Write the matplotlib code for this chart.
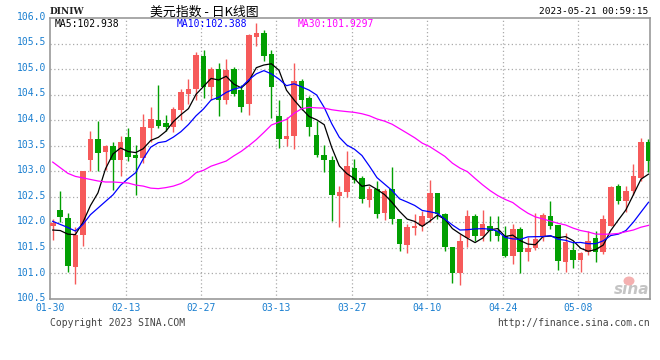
import matplotlib
matplotlib.use('Agg')
import matplotlib.pyplot as plt
from matplotlib.patches import Ellipse
import numpy as np
import pandas as pd

# daily K-line of the US dollar index (DINIW), 2023-01-30 .. 2023-05-19
opens = [101.93, 102.25, 102.09, 101.13, 101.76, 103.22, 103.64, 103.37, 103.49, 103.22,
         103.67, 103.31, 103.26, 103.84, 104.01, 103.95, 103.87, 104.20, 104.52, 104.62,
         105.25, 104.64, 105.00, 104.39, 105.00, 104.59, 104.31, 105.62, 105.71, 105.29,
         104.09, 103.63, 103.69, 104.76, 104.44, 103.71, 103.31, 103.23, 102.51, 102.59,
         103.06, 102.86, 102.44, 102.66, 102.18, 102.65, 102.06, 101.55, 101.89, 101.92,
         102.09, 102.57, 102.16, 101.52, 101.01, 101.69, 102.12, 101.74, 101.93, 101.84,
         101.74, 101.35, 101.87, 101.42, 101.49, 101.74, 102.12, 101.95, 101.23, 101.46,
         101.27, 101.42, 101.69, 101.42, 101.93, 102.72, 102.42, 102.62, 102.86, 103.57]
highs = [102.06, 102.62, 102.19, 101.91, 103.00, 103.78, 103.98, 103.52, 103.57, 103.70,
         103.85, 103.52, 104.13, 104.25, 104.68, 104.10, 104.26, 104.61, 104.80, 105.34,
         105.38, 105.04, 105.11, 105.20, 105.04, 104.69, 105.68, 105.90, 105.76, 105.38,
         104.40, 104.06, 105.11, 104.80, 104.47, 103.98, 103.52, 103.30, 102.71, 103.39,
         103.24, 102.90, 102.72, 102.81, 102.65, 103.08, 102.06, 101.96, 102.16, 102.23,
         102.82, 102.57, 102.19, 101.52, 101.77, 102.25, 102.16, 102.25, 102.13, 102.13,
         101.92, 101.96, 101.91, 101.72, 102.19, 102.19, 102.42, 101.95, 101.80, 101.62,
         101.42, 101.84, 101.83, 102.15, 102.72, 102.76, 102.71, 103.14, 103.66, 103.63]
lows = [101.65, 102.00, 101.03, 100.79, 101.53, 103.01, 103.01, 103.02, 102.63, 102.90,
        103.20, 102.53, 103.16, 103.58, 103.84, 103.78, 103.76, 104.00, 104.31, 104.40,
        104.44, 104.40, 104.09, 104.31, 104.48, 104.16, 104.11, 105.45, 105.15, 104.04,
        103.46, 103.49, 103.44, 104.20, 103.69, 103.28, 102.99, 102.03, 101.90, 102.50,
        102.78, 102.38, 102.31, 102.09, 102.05, 101.97, 101.44, 101.40, 101.75, 101.84,
        102.00, 102.06, 101.44, 100.82, 100.77, 101.52, 101.63, 101.63, 101.63, 101.63,
        101.32, 101.19, 101.01, 101.25, 101.45, 101.63, 101.87, 101.07, 101.03, 101.10,
        101.03, 101.37, 101.22, 101.38, 101.92, 102.36, 102.21, 102.53, 102.80, 102.99]
closes = [101.98, 102.11, 101.14, 101.76, 103.00, 103.63, 103.36, 103.49, 103.22, 103.58,
          103.28, 103.26, 103.87, 104.03, 103.88, 103.87, 104.21, 104.55, 104.62, 105.28,
          104.64, 105.00, 104.39, 104.99, 104.52, 104.26, 105.66, 105.71, 105.25, 104.64,
          103.63, 103.70, 104.76, 104.40, 103.87, 103.31, 103.22, 102.53, 102.60, 103.11,
          102.83, 102.46, 102.66, 102.16, 102.61, 102.06, 101.58, 101.91, 101.93, 102.13,
          102.57, 102.16, 101.52, 101.01, 101.63, 102.12, 101.74, 101.96, 101.83, 101.74,
          101.35, 101.87, 101.42, 101.50, 101.67, 102.14, 101.93, 101.25, 101.62, 101.27,
          101.40, 101.63, 101.42, 102.06, 102.70, 102.42, 102.62, 102.91, 103.57, 103.20]

# moving-average values before enough days are on the chart
ma5_head = [101.85, 101.84, 101.77, 101.76]
ma10_head = [102.02, 101.96, 101.90, 101.83, 101.96, 102.15, 102.28, 102.41, 102.54]
ma30_head = [103.18, 103.07, 102.96, 102.90, 102.87, 102.84, 102.81, 102.79, 102.79, 102.78,
             102.77, 102.73, 102.71, 102.67, 102.66, 102.68, 102.71, 102.76, 102.84, 102.97,
             103.02, 103.10, 103.15, 103.20, 103.30, 103.39, 103.50, 103.62, 103.76]

date_labels = ['01-30', '02-13', '02-27', '03-13', '03-27', '04-10', '04-24', '05-08']
yticks = [100.5, 101.0, 101.5, 102.0, 102.5, 103.0, 103.5, 104.0, 104.5, 105.0, 105.5, 106.0]

RED = '#f65a5a'
GREEN = '#029f02'
BLUE_TXT = '#1a7fd0'
MONO = 'DejaVu Sans Mono'

W, H = 660, 360


def fpos(x, y):
    return x / W, 1 - y / H


def moving_average(head, n):
    ma = pd.Series(closes).rolling(n).mean().to_numpy()
    ma[:len(head)] = head
    return ma


fig = plt.figure(figsize=(6.6, 3.6), dpi=100)
ax = fig.add_axes([50 / W, 1 - 299 / H, 600 / W, 281 / H])

o = np.array(opens)
c = np.array(closes)
x = np.arange(len(closes))
up = c >= o
colors = np.where(up, RED, GREEN)

ax.vlines(x, lows, highs, colors=colors, linewidth=1.0, zorder=3)
body_bottom = np.minimum(o, c)
body_height = np.maximum(np.abs(c - o), 0.02)
ax.bar(x, body_height, bottom=body_bottom, width=0.74, color=colors,
       linewidth=0, zorder=4)

ax.plot(x, moving_average(ma5_head, 5), color='black', lw=0.9, zorder=5)
ax.plot(x, moving_average(ma10_head, 10), color='#0000ff', lw=0.9, zorder=5)
ax.plot(x, moving_average(ma30_head, 30), color='#ff00ff', lw=0.9, zorder=5)

ax.set_xlim(-0.36, 79.2)
ax.set_ylim(100.5, 106.0)

# dotted grid
for yv in yticks[1:-1]:
    ax.axhline(yv, color='#aaaaaa', lw=0.9, ls=(0, (1, 2)), zorder=1)
grid_x = [i * 10 - 0.33 for i in range(len(date_labels))]
for gx in grid_x[1:]:
    ax.axvline(gx, color='#aaaaaa', lw=0.9, ls=(0, (1, 2)), zorder=1)

ax.set_xticks([])
ax.set_yticks([])
for s in ax.spines.values():
    s.set_color('#999999')
    s.set_linewidth(1.2)

# axis labels drawn in figure pixel space
for yv in yticks:
    ypx = 17.6 + (106.0 - yv) * 51.2
    fig.text(*fpos(46, ypx - 1), f'{yv:.1f}', ha='right', va='center',
             fontsize=7, family=MONO, color=BLUE_TXT)
for lbl, gx in zip(date_labels, grid_x):
    xpx = 50 + (gx + 0.36) * 600 / 79.56
    fig.text(*fpos(xpx, 308), lbl, ha='center', va='center',
             fontsize=7, family=MONO, color=BLUE_TXT)

# header
fig.text(*fpos(50, 12), 'DINIW', ha='left', va='center', fontsize=6.5,
         family='DejaVu Serif', weight='bold', color='#222222')
fig.text(*fpos(204, 12), '美元指数 - 日K线图', ha='center', va='center', fontsize=9.3,
         family=['Noto Sans CJK SC', 'DejaVu Sans'], color='black')
fig.text(*fpos(648, 12), '2023-05-21 00:59:15', ha='right', va='center',
         fontsize=6.8, family=MONO, color='black')

fig.text(*fpos(55, 24), 'MA5:102.938', ha='left', va='center', fontsize=7,
         family=MONO, color='black')
fig.text(*fpos(177, 24), 'MA10:102.388', ha='left', va='center', fontsize=7,
         family=MONO, color='#0000ff')
fig.text(*fpos(298, 24), 'MA30:101.9297', ha='left', va='center', fontsize=7,
         family=MONO, color='#ff00ff')

# footer
fig.text(*fpos(50, 323), 'Copyright 2023 SINA.COM', ha='left', va='center',
         fontsize=7, family=MONO, color='#444444')
fig.text(*fpos(650, 323), 'http://finance.sina.com.cn', ha='right', va='center',
         fontsize=7, family=MONO, color='#444444')

# sina watermark: eye logo as a patch, word as text
fig.patches.append(Ellipse(fpos(629, 281), 11 / W, 9 / H, transform=fig.transFigure,
                           facecolor='#f4b0b0', edgecolor='none', zorder=6))
fig.text(*fpos(632, 290), 'sina', ha='center', va='center', fontsize=11,
         style='italic', weight='bold', color='#c4c4c4', family='DejaVu Sans')

fig.savefig('out.png', dpi=100)
